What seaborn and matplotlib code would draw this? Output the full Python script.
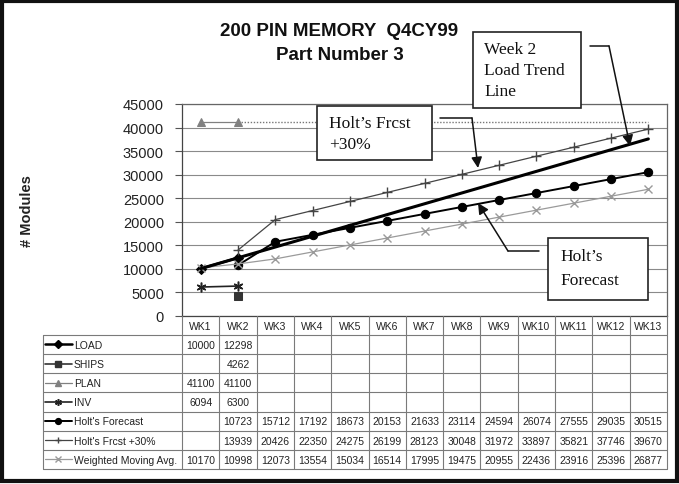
import numpy as np
import pandas as pd
import matplotlib
matplotlib.use("Agg")
import matplotlib.pyplot as plt
import seaborn as sns
from matplotlib.patches import Rectangle, FancyArrowPatch
from matplotlib.lines import Line2D

# ---------------- data ----------------
weeks = ["WK1", "WK2", "WK3", "WK4", "WK5", "WK6", "WK7", "WK8", "WK9", "WK10", "WK11", "WK12", "WK13"]
nan = np.nan
load = [10000, 12298] + [nan] * 11
ships = [nan, 4262] + [nan] * 11
plan = [41100, 41100] + [nan] * 11
inv = [6094, 6300] + [nan] * 11
holt = [nan, 10723, 15712, 17192, 18673, 20153, 21633, 23114, 24594, 26074, 27555, 29035, 30515]
holt30 = [nan, 13939, 20426, 22350, 24275, 26199, 28123, 30048, 31972, 33897, 35821, 37746, 39670]
wma = [10170, 10998, 12073, 13554, 15034, 16514, 17995, 19475, 20955, 22436, 23916, 25396, 26877]
# trend lines (week number, value)
trend_weeks = [1, 13]
trend_values = [10000, 37576]
plan_trend_weeks = [2, 13]
plan_trend_values = [41100, 41100]
y_ticks = [0, 5000, 10000, 15000, 20000, 25000, 30000, 35000, 40000, 45000]

series = [
    ("LOAD", load, dict(color="black", marker="D", markersize=5.5, linewidth=1.8)),
    ("SHIPS", ships, dict(color="#333333", marker="s", markersize=5.5, linewidth=1.2)),
    ("PLAN", plan, dict(color="#808080", marker="^", markersize=5.5, linewidth=0.9)),
    ("INV", inv, dict(color="#222222", marker=(6, 2, 0), markersize=7, markeredgewidth=1.1, linewidth=1.2)),
    ("Holt's Forecast", holt, dict(color="black", marker="o", markersize=6, linewidth=1.4)),
    ("Holt's Frcst +30%", holt30, dict(color="#444444", marker="+", markersize=7, markeredgewidth=1.0, linewidth=0.9)),
    ("Weighted Moving Avg.", wma, dict(color="#9a9a9a", marker="x", markersize=5.5, markeredgewidth=1.0, linewidth=0.9)),
]

# ---------------- style ----------------
sns.set_style("white")
plt.rcParams["font.family"] = ["Liberation Sans", "DejaVu Sans"]

W, H = 679, 485
fig = plt.figure(figsize=(W / 100, H / 100), dpi=100)


def fx(px):
    return px / W


def fy(py):
    return 1 - py / H


# main plot area (pixel layout)
ax_l, ax_r, ax_t, ax_b = 182, 667, 105, 316.7
ax = fig.add_axes([fx(ax_l), fy(ax_b), fx(ax_r - ax_l), (ax_b - ax_t) / H])
tb_l, tb_b = 43, 470
tab = fig.add_axes([fx(tb_l), fy(tb_b), fx(ax_r - tb_l), (tb_b - ax_b) / H])

pos = np.arange(1, len(weeks) + 1)

for name, vals, kw in series:
    df = pd.DataFrame({"week": pos, "value": vals}).dropna()
    kw = dict(kw)
    mec = kw.get("color")
    sns.lineplot(data=df, x="week", y="value", ax=ax, markeredgecolor=mec,
                 markerfacecolor=mec, zorder=3, **kw)

# trend lines
tdf = pd.DataFrame({"week": trend_weeks, "value": trend_values})
sns.lineplot(data=tdf, x="week", y="value", ax=ax, color="black", linewidth=2.2, zorder=4)
pdf = pd.DataFrame({"week": plan_trend_weeks, "value": plan_trend_values})
sns.lineplot(data=pdf, x="week", y="value", ax=ax, color="#777777", linewidth=1.0,
             linestyle=(0, (1, 1.2)), zorder=2)

ax.set_xlim(0.5, len(weeks) + 0.5)
ax.set_ylim(0, 45000)
ax.set_yticks(y_ticks)
ax.set_yticklabels([str(v) for v in y_ticks], fontsize=10.5, color="#222222")
ax.set_xticks(np.arange(0.5, len(weeks) + 1, 1))
ax.set_xticklabels([])
ax.tick_params(axis="x", length=0)
ax.tick_params(axis="y", length=5, width=0.8, color="#555555", direction="out", pad=8, left=True)
ax.set_xlabel("")
ax.set_ylabel("")
ax.grid(axis="y", color="#8a8a8a", linewidth=0.8)
ax.set_axisbelow(True)
for s in ax.spines.values():
    s.set_color("#666666")
    s.set_linewidth(0.9)
ax.spines["left"].set_color("#444444")
ax.spines["bottom"].set_color("#444444")

fig.text(fx(27), fy(211), "# Modules", rotation=90, fontsize=10.5, fontweight="bold",
         ha="center", va="center", color="#222222")

# titles
fig.text(0.5, fy(31), "200 PIN MEMORY  Q4CY99", fontsize=13.5, fontweight="bold",
         ha="center", va="center", color="#111111")
fig.text(0.5, fy(55), "Part Number 3", fontsize=13.5, fontweight="bold",
         ha="center", va="center", color="#111111")

# ---------------- data table ----------------
unit = (ax_r - ax_l) / len(weeks)
x_left = 0.5 - (ax_l - tb_l) / unit
nrows = len(series) + 1
tab.set_xlim(x_left, len(weeks) + 0.5)
tab.set_ylim(nrows, 0)
tab.axis("off")
gcol = "#7a7a7a"
for xb in np.arange(0.5, len(weeks) + 1, 1):
    tab.plot([xb, xb], [0, nrows], color=gcol, lw=0.8, clip_on=False)
tab.plot([x_left, x_left], [1, nrows], color=gcol, lw=0.8, clip_on=False)
for r in range(1, nrows + 1):
    tab.plot([x_left, len(weeks) + 0.5], [r, r], color=gcol, lw=0.8, clip_on=False)

for i, wk in enumerate(weeks):
    tab.text(pos[i], 0.52, wk, ha="center", va="center", fontsize=7.5, color="#222222")

for r, (name, vals, kw) in enumerate(series, start=1):
    for i, v in enumerate(vals):
        if not np.isnan(v):
            tab.text(pos[i], r + 0.52, f"{int(v)}", ha="center", va="center",
                     fontsize=7.5, color="#222222")
    # legend key
    k0 = x_left + 2 / unit
    k1 = x_left + 29 / unit
    km = (k0 + k1) / 2
    kwk = dict(kw)
    c = kwk.pop("color")
    mk = kwk.pop("marker")
    ms = kwk.pop("markersize")
    mew = kwk.pop("markeredgewidth", 1.0)
    lw = kwk.pop("linewidth")
    tab.add_line(Line2D([k0, k1], [r + 0.5, r + 0.5], color=c, lw=lw))
    tab.add_line(Line2D([km], [r + 0.5], color=c, marker=mk, markersize=ms * 0.7,
                        markeredgewidth=mew, markerfacecolor=c, markeredgecolor=c, lw=0))
    tab.text(x_left + 31 / unit, r + 0.52, name, ha="left", va="center",
             fontsize=7.5, color="#222222")

# ---------------- annotation boxes & arrows ----------------
serif = ["Liberation Serif", "DejaVu Serif"]


def box(x0, y0, x1, y1, lines, tx, ty0, dy):
    fig.patches.append(Rectangle((fx(x0), fy(y1)), fx(x1 - x0), (y1 - y0) / H,
                                 transform=fig.transFigure, facecolor="white",
                                 edgecolor="#222222", linewidth=1.2, zorder=10))
    for k, t in enumerate(lines):
        fig.text(fx(tx), fy(ty0 + k * dy), t, family=serif, fontsize=12.5,
                 ha="left", va="center", color="#111111", zorder=11)


def arrow(points):
    xs = [fx(p[0]) for p in points]
    ys = [fy(p[1]) for p in points]
    if len(points) > 2:
        fig.lines.append(Line2D(xs[:-1], ys[:-1], transform=fig.transFigure,
                                color="#111111", lw=1.1, zorder=10))
    fig.patches.append(FancyArrowPatch((xs[-2], ys[-2]), (xs[-1], ys[-1]),
                                       transform=fig.transFigure, arrowstyle="-|>",
                                       mutation_scale=16, color="#111111", lw=1.1,
                                       shrinkA=0, shrinkB=0, zorder=10))


box(473, 33, 581, 109, ["Week 2", "Load Trend", "Line"], 484, 50, 21)
arrow([(590, 47), (609, 47), (630, 147)])

box(317, 107, 432, 161, ["Holt\u2019s Frcst", "+30%"], 329, 124, 21)
arrow([(440, 119), (472, 119), (478, 169)])

box(548, 239, 648, 301, ["Holt\u2019s", "Forecast"], 560, 257, 24)
arrow([(539, 252), (508, 252), (478, 204)])

# outer frame
fig.patches.append(Rectangle((fx(1.5), fy(482)), fx(675), 480.5 / H, transform=fig.transFigure,
                             facecolor="none", edgecolor="#111111", linewidth=3, zorder=20))

fig.savefig("out.png", dpi=100)
